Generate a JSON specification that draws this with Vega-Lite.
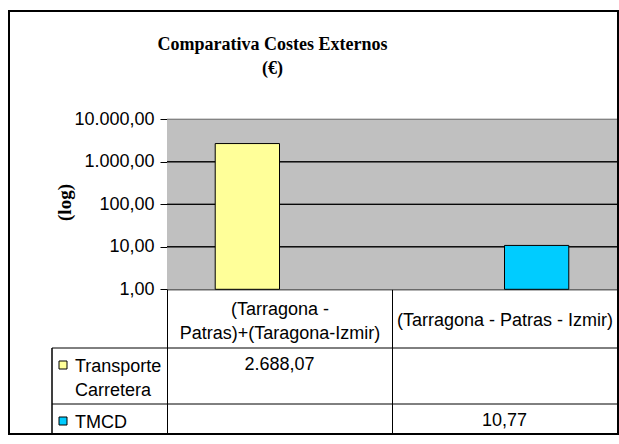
{
  "$schema": "https://vega.github.io/schema/vega-lite/v6.json",
  "width": 609,
  "height": 423,
  "autosize": {"type": "none"},
  "padding": {"left": 9, "top": 11, "right": 1, "bottom": 10},
  "background": "white",
  "title": {
    "text": ["Comparativa Costes Externos", "(€)"],
    "font": "Liberation Serif",
    "fontSize": 18,
    "fontWeight": "bold",
    "color": "black",
    "anchor": "middle",
    "dx": -41,
    "offset": -81,
    "baseline": "alphabetic",
    "lineHeight": 24
  },
  "config": {
    "locale": {"number": {"decimal": ",", "thousands": ".", "grouping": [3], "currency": ["", " €"]}},
    "view": {"stroke": "black", "strokeWidth": 2, "fill": "white"},
    "font": "Liberation Sans"
  },
  "data": {
    "values": [
      {"route": "(Tarragona - Patras)+(Taragona-Izmir)", "series": "Transporte Carretera", "value": 2688.07},
      {"route": "(Tarragona - Patras - Izmir)", "series": "TMCD", "value": 10.77}
    ]
  },
  "resolve": {
    "scale": {"x": "independent", "y": "independent"},
    "axis": {"x": "independent", "y": "independent"}
  },
  "layer": [
    {
      "resolve": {"scale": {"y": "independent"}, "axis": {"y": "independent"}},
      "layer": [
        {
          "encoding": {
            "x": {
              "field": "route",
              "type": "nominal",
              "sort": null,
              "scale": {
                "domain": ["(Tarragona - Patras)+(Taragona-Izmir)", "(Tarragona - Patras - Izmir)"],
                "range": [158, 608],
                "paddingInner": 0,
                "paddingOuter": 0
              },
              "axis": {
                "orient": "bottom",
                "offset": -144.7,
                "tickBand": "extent",
                "tickSize": 145,
                "tickColor": "black",
                "tickWidth": 1,
                "domain": true,
                "domainColor": "black",
                "domainWidth": 1,
                "labelPadding": {"condition": {"test": "datum.value == '(Tarragona - Patras)+(Taragona-Izmir)'", "value": -125.3}, "value": -113.8},
                "labelBaseline": "middle",
                "labelFont": "Liberation Sans",
                "labelFontSize": 18,
                "labelColor": "black",
                "labelLineHeight": 24,
                "labelAngle": 0,
                "labelExpr": "datum.value == '(Tarragona - Patras)+(Taragona-Izmir)' ? ['(Tarragona -', 'Patras)+(Taragona-Izmir)'] : datum.label",
                "labelOverlap": false,
                "labelBound": false,
                "labelFlush": false,
                "labelLimit": 0,
                "grid": false,
                "title": null
              }
            }
          },
          "layer": [
            {
              "mark": {"type": "bar", "fill": "#c0c0c0", "strokeWidth": 0},
              "encoding": {
                "y": {
                  "datum": 10000,
                  "type": "quantitative",
                  "scale": {"type": "log", "domain": [1, 10000], "range": [278.3, 108.3], "nice": false},
                  "axis": {
                    "values": [1, 10, 100, 1000, 10000],
                    "format": ",.2f",
                    "offset": -158,
                    "tickSize": 7,
                    "tickColor": "black",
                    "tickWidth": 1,
                    "domainColor": "black",
                    "domainWidth": 1,
                    "labelFont": "Liberation Sans",
                    "labelFontSize": 18,
                    "labelColor": "black",
                    "labelPadding": 6,
                    "labelOverlap": false,
                    "labelBound": false,
                    "labelFlush": false,
                    "grid": false,
                    "title": "(log)",
                    "titleFont": "Liberation Serif",
                    "titleFontSize": 19,
                    "titleFontWeight": "bold",
                    "titleColor": "black",
                    "titleX": -103,
                    "titleY": 191,
                    "titleAngle": -90,
                    "titleAlign": "center",
                    "titleBaseline": "middle"
                  }
                },
                "y2": {"datum": 1}
              }
            },
            {
              "mark": {"type": "bar", "fill": "transparent", "stroke": "#808080", "strokeWidth": 1},
              "encoding": {"y": {"datum": 10000, "type": "quantitative"}, "y2": {"datum": 10000}}
            },
            {
              "mark": {"type": "bar", "fill": "transparent", "stroke": "black", "strokeWidth": 1},
              "encoding": {"y": {"datum": 1000, "type": "quantitative"}, "y2": {"datum": 1000}}
            },
            {
              "mark": {"type": "bar", "fill": "transparent", "stroke": "black", "strokeWidth": 1},
              "encoding": {"y": {"datum": 100, "type": "quantitative"}, "y2": {"datum": 100}}
            },
            {
              "mark": {"type": "bar", "fill": "transparent", "stroke": "black", "strokeWidth": 1},
              "encoding": {"y": {"datum": 10, "type": "quantitative"}, "y2": {"datum": 10}}
            },
            {
              "mark": {"type": "bar", "stroke": "black", "strokeWidth": 1, "opacity": 1},
              "encoding": {
                "xOffset": {
                  "field": "series",
                  "type": "nominal",
                  "scale": {"domain": ["Transporte Carretera", "TMCD"], "paddingInner": 0, "paddingOuter": 0.75}
                },
                "y": {"field": "value", "type": "quantitative"},
                "y2": {"datum": 1},
                "fill": {
                  "field": "series",
                  "type": "nominal",
                  "scale": {"domain": ["Transporte Carretera", "TMCD"], "range": ["#FFFF99", "#00CCFF"]},
                  "legend": null
                }
              }
            }
          ]
        },
        {
          "transform": [{"window": [{"op": "row_number", "as": "row"}]}],
          "mark": {"type": "text", "baseline": "top", "dy": 8, "fontSize": 18, "font": "Liberation Sans", "color": "black"},
          "encoding": {
            "x": {"field": "route", "type": "nominal", "sort": null},
            "y": {
              "field": "row",
              "type": "quantitative",
              "scale": {"domain": [0, 1, 2, 3], "range": [278.3, 337, 393, 423], "zero": false, "nice": false},
              "axis": null
            },
            "text": {"field": "value", "type": "quantitative", "format": ",.2f"}
          }
        }
      ]
    },
    {
      "transform": [{"window": [{"op": "row_number", "as": "row"}]}],
      "layer": [
        {
          "mark": {"type": "rule", "color": "black", "strokeWidth": 1},
          "encoding": {
            "x": {
              "datum": 0,
              "type": "quantitative",
              "scale": {"domain": [0, 1, 2, 3], "range": [43, 158, 383, 608], "zero": false, "nice": false},
              "axis": null
            },
            "x2": {"datum": 3},
            "y": {
              "field": "row",
              "type": "quantitative",
              "scale": {"domain": [0, 1, 2, 3], "range": [278.3, 337, 393, 423], "zero": false, "nice": false},
              "axis": null
            }
          }
        },
        {
          "mark": {"type": "rule", "color": "black", "strokeWidth": 1},
          "encoding": {
            "x": {"datum": 0, "type": "quantitative"},
            "y": {"datum": 1, "type": "quantitative"},
            "y2": {"datum": 3}
          }
        },
        {
          "mark": {"type": "text", "align": "left", "baseline": "top", "dx": 23, "dy": 10, "fontSize": 18, "font": "Liberation Sans", "color": "black", "lineBreak": " ", "lineHeight": 24},
          "encoding": {
            "x": {"datum": 0, "type": "quantitative"},
            "y": {"field": "row", "type": "quantitative"},
            "text": {"field": "series", "type": "nominal"}
          }
        },
        {
          "mark": {"type": "point", "shape": "M 1.75 3.25 h 2 v 2 h -2 Z", "size": 64, "filled": true, "stroke": "black", "strokeWidth": 1, "opacity": 1},
          "encoding": {
            "x": {"datum": 0, "type": "quantitative"},
            "y": {"field": "row", "type": "quantitative"},
            "fill": {"field": "series", "type": "nominal", "legend": null}
          }
        }
      ]
    }
  ]
}
